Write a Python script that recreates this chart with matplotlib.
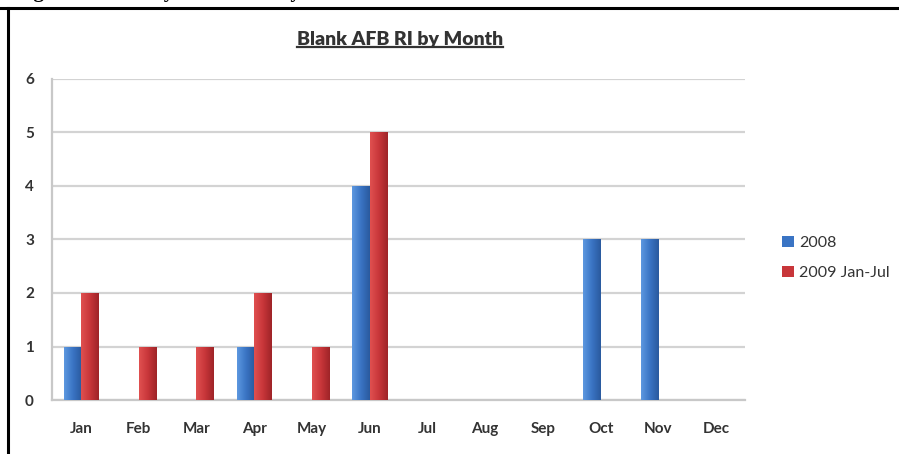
import matplotlib
matplotlib.use("Agg")
import matplotlib.pyplot as plt
import numpy as np
from matplotlib.lines import Line2D
from matplotlib.colors import LinearSegmentedColormap

months = ["Jan", "Feb", "Mar", "Apr", "May", "Jun", "Jul", "Aug", "Sep", "Oct", "Nov", "Dec"]
series_2008 = [1, 0, 0, 1, 0, 4, 0, 0, 0, 3, 3, 0]
series_2009 = [2, 1, 1, 2, 1, 5, 0, 0, 0, 0, 0, 0]
series_names = ["2008", "2009 Jan-Jul"]
yticks = [0, 1, 2, 3, 4, 5, 6]
title = "Blank AFB RI by Month"
caption = "Figure 3. Runway Incursions by Month"

W, H = 899, 454
fig = plt.figure(figsize=(W / 100, H / 100), dpi=100)
fig.patch.set_facecolor("white")

# page frame (top and left rules of the embedded chart box)
fig.add_artist(Line2D([0, 1], [1 - 8 / H, 1 - 8 / H], color="black", lw=2.2, transform=fig.transFigure))
fig.add_artist(Line2D([8 / W, 8 / W], [0, 1 - 8 / H], color="black", lw=2.2, transform=fig.transFigure))
# cut-off caption above the chart box (only its bottom edge visible, as in the scan)
fig.text(15 / W, 1 + 3 / H, caption, ha="left", va="baseline", fontsize=15,
         fontweight="bold", family="Liberation Serif", color="black")

ax = fig.add_axes([52 / W, 1 - 400 / H, (745 - 52) / W, (400 - 79) / H])
x = np.arange(len(months))
bw = 0.30
cols = ["#3a74c4", "#c8363a"]
light = ["#5d98e0", "#e05050"]
dark = ["#2a5a9e", "#9e2428"]

for i, (vals, name) in enumerate(zip([series_2008, series_2009], series_names)):
    offs = (i - 0.5) * bw
    bars = ax.bar(x + offs, vals, width=bw, color=cols[i], label=name, zorder=3, linewidth=0)
    cmap = LinearSegmentedColormap.from_list("g%d" % i, [light[i], cols[i], dark[i]])
    grad = np.linspace(0, 1, 64).reshape(1, -1)
    for b in bars:
        if b.get_height() <= 0:
            continue
        x0, w, h = b.get_x(), b.get_width(), b.get_height()
        im = ax.imshow(grad, cmap=cmap, extent=[x0, x0 + w, 0, h], aspect="auto", zorder=4,
                       interpolation="bicubic")
        im.set_clip_path(b)

ax.set_xlim(-0.5, len(months) - 0.5)
ax.set_ylim(0, 6)
ax.set_yticks(yticks)
ax.set_xticks(x)
ax.set_xticklabels(months)
ax.grid(axis="y", color="#d3d3d3", lw=1.6, zorder=0)
ax.set_axisbelow(True)
for s in ["top", "right"]:
    ax.spines[s].set_visible(False)
ax.spines["left"].set_color("#c8c8c8")
ax.spines["left"].set_linewidth(1.6)
ax.spines["bottom"].set_color("#c8c8c8")
ax.spines["bottom"].set_linewidth(1.6)
ax.tick_params(axis="both", length=0, labelsize=11, labelcolor="#333333")
ax.tick_params(axis="x", pad=16)
ax.tick_params(axis="y", pad=13)
for lab in ax.get_xticklabels() + ax.get_yticklabels():
    lab.set_fontweight("bold")
    lab.set_family("Lato")

leg = ax.legend(loc="center left", bbox_to_anchor=(768 / W, 1 - 258 / H), bbox_transform=fig.transFigure,
                frameon=False, handlelength=0.7, handleheight=0.7, handletextpad=0.35, labelspacing=1.0,
                prop={"family": "Lato", "size": 11.5})
for t in leg.get_texts():
    t.set_color("#333333")

t = fig.text(400 / W, 1 - 40 / H, title, ha="center", va="center", fontsize=14, fontweight="heavy",
             family="Lato", color="#333333")
fig.canvas.draw()
bb = t.get_window_extent().transformed(fig.transFigure.inverted())
fig.add_artist(Line2D([bb.x0, bb.x1], [bb.y0 + 0.004, bb.y0 + 0.004], color="#333333", lw=1.6,
                      transform=fig.transFigure))

fig.savefig("out.png", dpi=100)
